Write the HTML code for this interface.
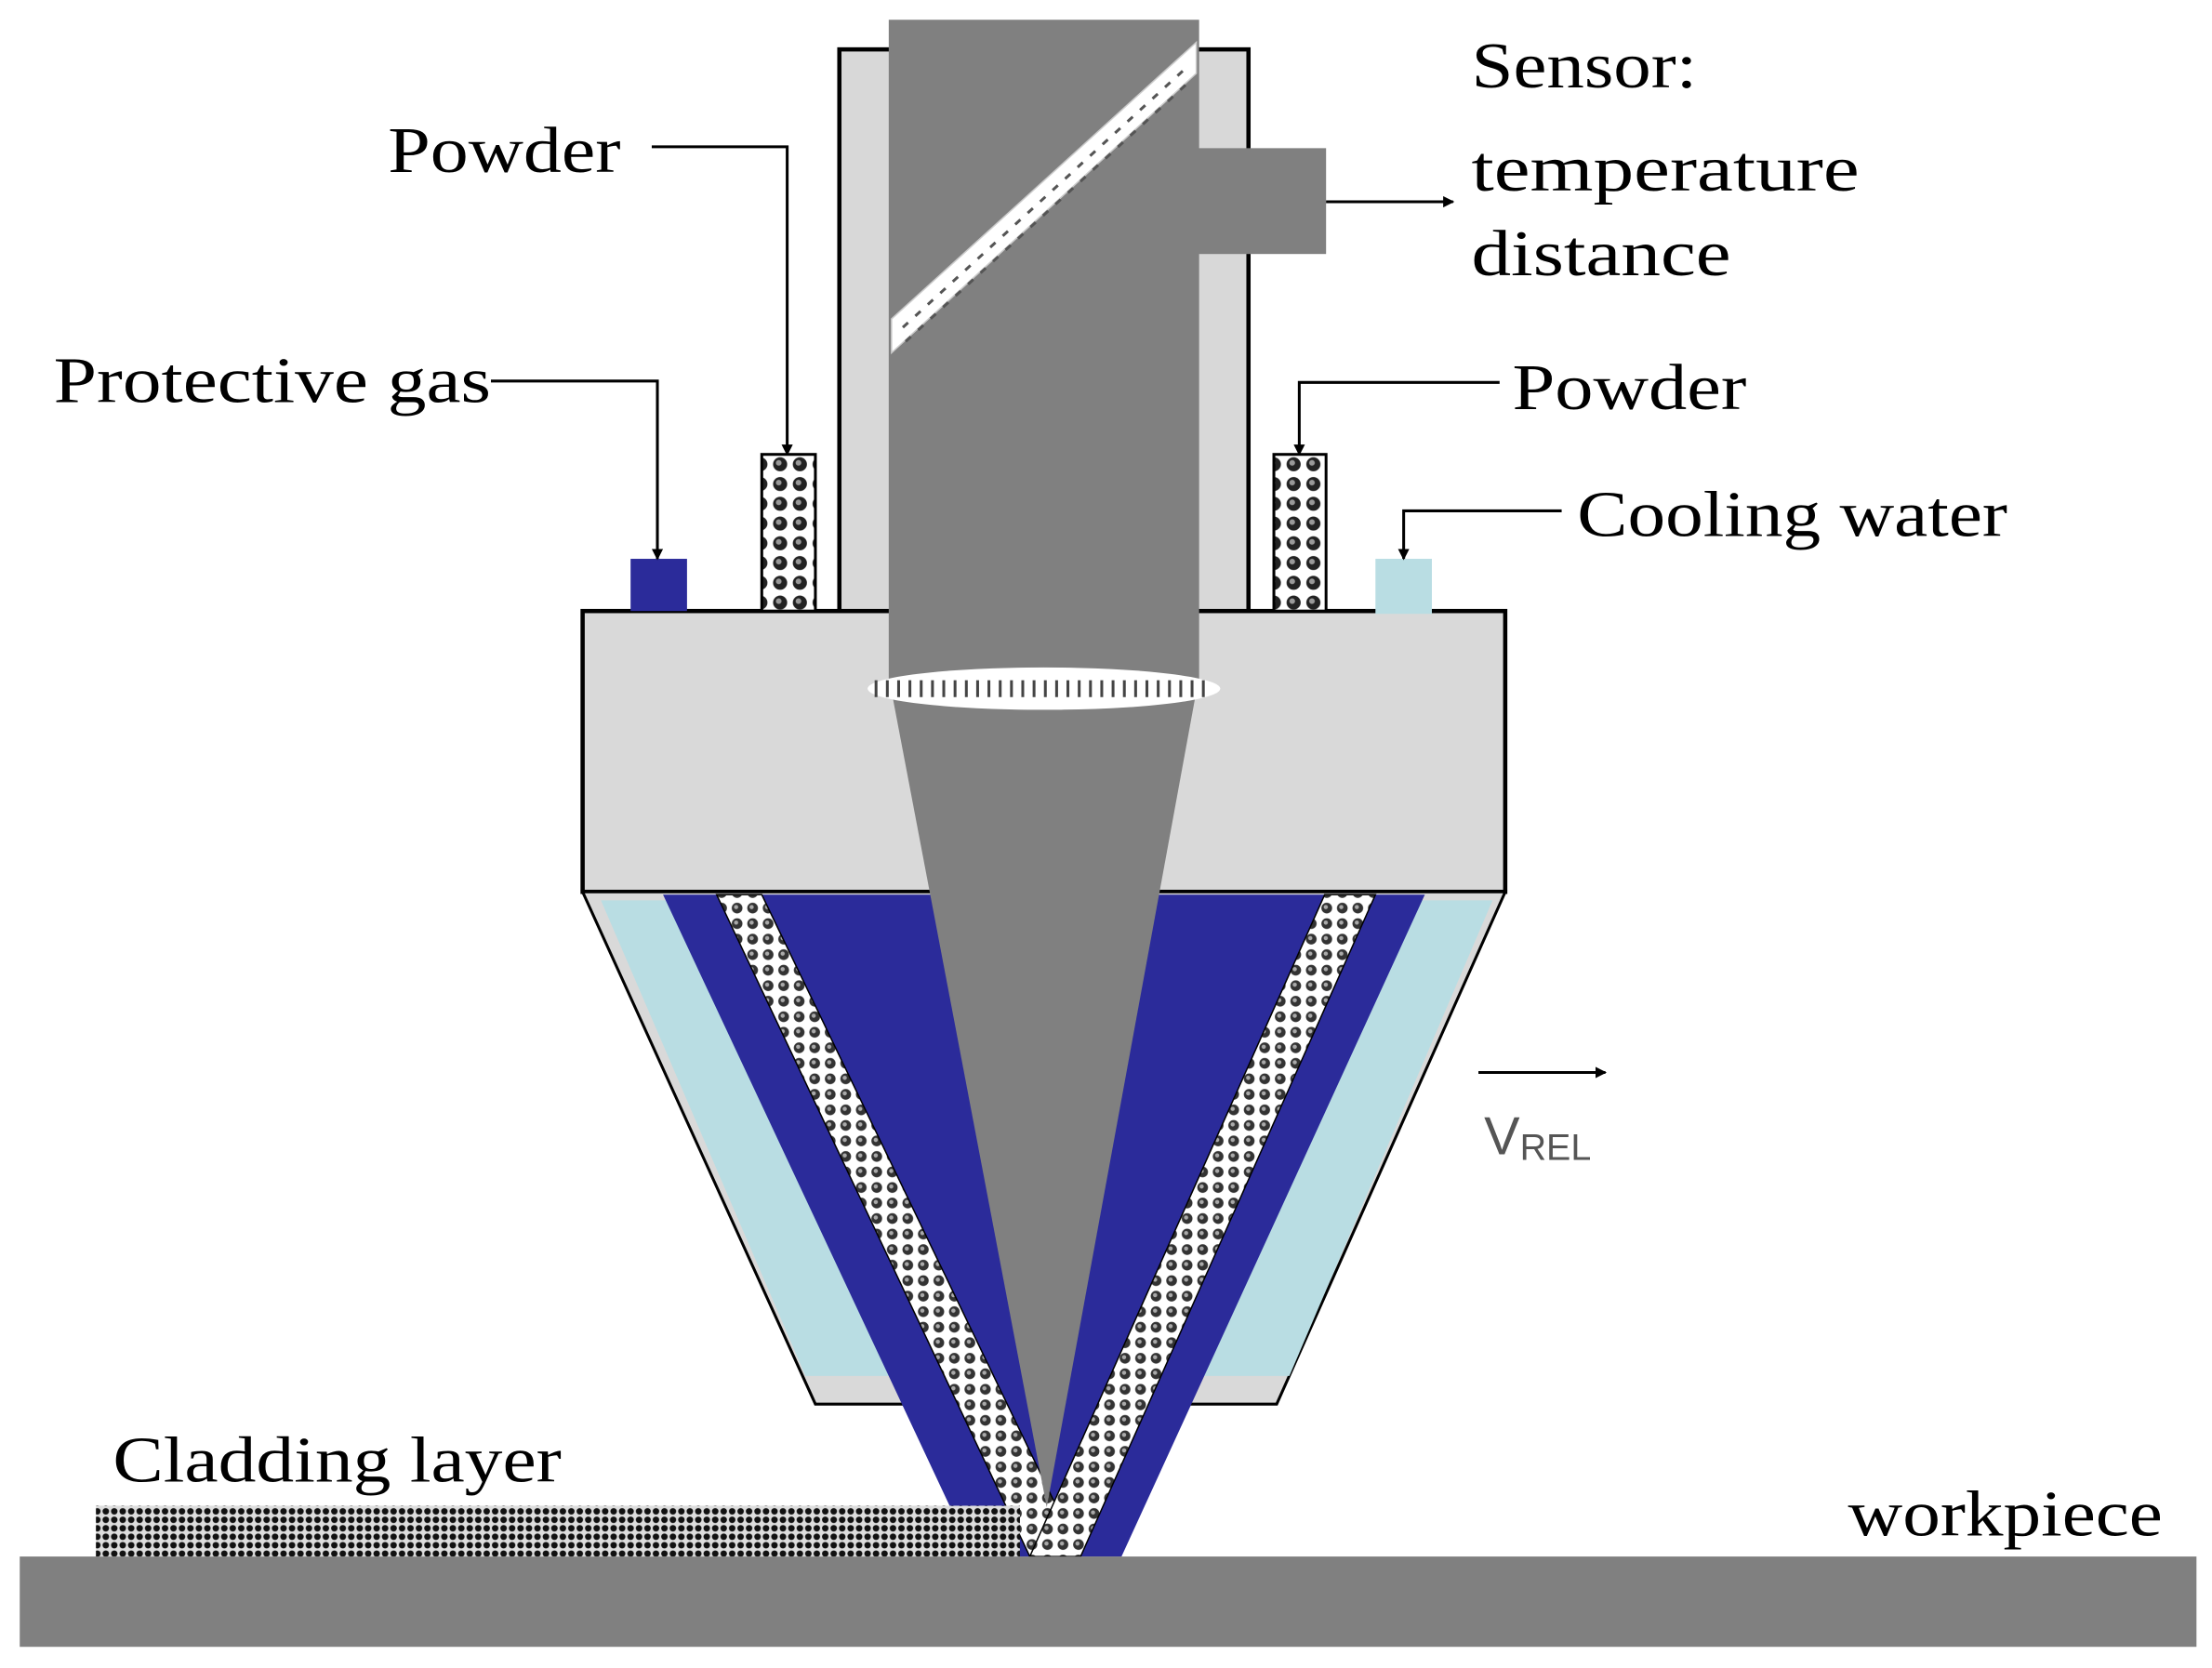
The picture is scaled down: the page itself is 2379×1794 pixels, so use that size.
<!DOCTYPE html>
<html><head><meta charset="utf-8"><style>html,body{margin:0;padding:0;background:#fff}svg{display:block}</style></head>
<body>
<svg width="2379" height="1794" viewBox="0 0 1568 1182" preserveAspectRatio="none" xmlns="http://www.w3.org/2000/svg">
<defs>
<pattern id="pw" width="14" height="14" patternUnits="userSpaceOnUse">
<rect width="14" height="14" fill="#fff"/>
<circle cx="7" cy="7" r="5" fill="#222"/><circle cx="6" cy="6" r="2" fill="#999"/>
</pattern>
<pattern id="pw2" width="11" height="11" patternUnits="userSpaceOnUse">
<rect width="11" height="11" fill="#fff"/>
<circle cx="5.5" cy="5.5" r="3.8" fill="#333"/><circle cx="4.8" cy="4.8" r="1.5" fill="#aaa"/>
</pattern>
<pattern id="cl" width="6" height="6" patternUnits="userSpaceOnUse">
<rect width="6" height="6" fill="#ddd"/><circle cx="3" cy="3" r="2.3" fill="#111"/>
</pattern>
<marker id="ah" markerWidth="8" markerHeight="8" refX="7" refY="4" orient="auto" markerUnits="userSpaceOnUse"><path d="M0,0 L8,4 L0,8 z" fill="#000"/></marker>
</defs>
<rect width="1568" height="1182" fill="#fff"/>
<rect x="595" y="35" width="290" height="400" fill="#d8d8d8" stroke="#000" stroke-width="3"/>
<rect x="413" y="433" width="654" height="199" fill="#d9d9d9" stroke="#000" stroke-width="3"/>
<polygon points="413,632 1067,632 905,995 578,995" fill="#d9d9d9" stroke="#000" stroke-width="2"/>
<polygon points="426,638 1058,638 914,975 571,975" fill="#b9dde3"/>
<polygon points="470,634 1010,634 795,1103 690,1103" fill="#2b2b9a"/>
<polygon points="508,634 540,634 766,1103 730,1103" fill="url(#pw2)" stroke="#000" stroke-width="1"/>
<polygon points="939,634 975,634 766,1103 730,1103" fill="url(#pw2)" stroke="#000" stroke-width="1"/>
<rect x="630" y="14" width="220" height="480" fill="#808080"/>
<polygon points="632,490 848,490 742,1068" fill="#808080"/>
<polygon points="632,226 632,250 848,52 848,30" fill="#fff" stroke="#ccc" stroke-width="1"/>
<line x1="640" y1="232" x2="842" y2="47" stroke="#555" stroke-width="2" stroke-dasharray="5,7"/>
<line x1="642" y1="242" x2="844" y2="57" stroke="#555" stroke-width="2" stroke-dasharray="5,7"/>
<ellipse cx="740" cy="488" rx="125" ry="15" fill="#fff"/>
<line x1="620" y1="488" x2="860" y2="488" stroke="#444" stroke-width="12" stroke-dasharray="2,6"/>
<rect x="848" y="105" width="92" height="75" fill="#808080"/>
<line x1="940" y1="143" x2="1030" y2="143" stroke="#000" stroke-width="2" marker-end="url(#ah)"/>
<rect x="447" y="396" width="40" height="37" fill="#2b2b9a"/>
<rect x="540" y="322" width="38" height="111" fill="url(#pw)" stroke="#000" stroke-width="2"/>
<rect x="903" y="322" width="37" height="111" fill="url(#pw)" stroke="#000" stroke-width="2"/>
<rect x="975" y="396" width="40" height="39" fill="#b9dde3"/>
<polyline points="462,104 558,104 558,322" fill="none" stroke="#000" stroke-width="2" marker-end="url(#ah)"/>
<polyline points="348,270 466,270 466,396" fill="none" stroke="#000" stroke-width="2" marker-end="url(#ah)"/>
<polyline points="1063,271 921,271 921,322" fill="none" stroke="#000" stroke-width="2" marker-end="url(#ah)"/>
<polyline points="1107,362 995,362 995,396" fill="none" stroke="#000" stroke-width="2" marker-end="url(#ah)"/>
<rect x="14" y="1103" width="1543" height="64" fill="#808080"/>
<rect x="68" y="1067" width="655" height="36" fill="url(#cl)"/>
<line x1="1048" y1="760" x2="1138" y2="760" stroke="#000" stroke-width="2" marker-end="url(#ah)"/>
<text x="1052" y="818" font-family="Liberation Sans, sans-serif" font-size="38" fill="#555">V<tspan font-size="26" dy="4">REL</tspan></text>
<g font-family="Liberation Serif, serif" font-size="46" fill="#000">
<text x="1043" y="62" textLength="160" lengthAdjust="spacingAndGlyphs">Sensor:</text>
<text x="1043" y="135" textLength="275" lengthAdjust="spacingAndGlyphs">temperature</text>
<text x="1043" y="195" textLength="184" lengthAdjust="spacingAndGlyphs">distance</text>
<text x="275" y="122" textLength="165" lengthAdjust="spacingAndGlyphs">Powder</text>
<text x="38" y="285" textLength="310" lengthAdjust="spacingAndGlyphs">Protective gas</text>
<text x="1072" y="290" textLength="166" lengthAdjust="spacingAndGlyphs">Powder</text>
<text x="1118" y="380" textLength="305" lengthAdjust="spacingAndGlyphs">Cooling water</text>
<text x="80" y="1050" textLength="318" lengthAdjust="spacingAndGlyphs">Cladding layer</text>
<text x="1310" y="1088" textLength="223" lengthAdjust="spacingAndGlyphs">workpiece</text>
</g>
</svg>
</body></html>
